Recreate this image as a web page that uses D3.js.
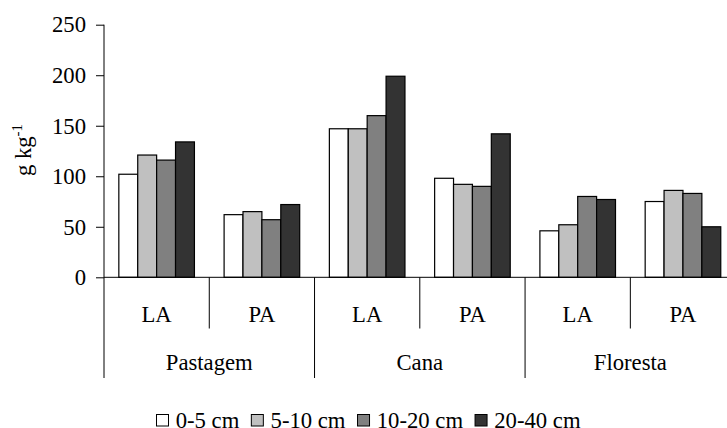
<!DOCTYPE html>
<html>
<head>
<meta charset="utf-8">
<script src="https://cdn.jsdelivr.net/npm/d3@7"></script>
<style>
  html, body { margin: 0; padding: 0; background: #fff; }
  svg { display: block; }
</style>
</head>
<body>
<svg id="chart" width="727" height="428"></svg>
<script>
// ---- data ----
const groups = ["Pastagem", "Cana", "Floresta"];
const subgroups = ["LA", "PA"];
const seriesNames = ["0-5 cm", "5-10 cm", "10-20 cm", "20-40 cm"];
const seriesColors = ["#ffffff", "#c0c0c0", "#808080", "#333333"];
// values per series, in order: Pastagem LA, Pastagem PA, Cana LA, Cana PA, Floresta LA, Floresta PA
const s0_5 = [102, 62, 147, 98, 46, 75];
const s5_10 = [121, 65, 147, 92, 52, 86];
const s10_20 = [116, 57, 160, 90, 80, 83];
const s20_40 = [134, 72, 199, 142, 77, 50];
const yTicks = [0, 50, 100, 150, 200, 250];

const seriesValues = [s0_5, s5_10, s10_20, s20_40];
const cats = [];
groups.forEach(g => subgroups.forEach(s => cats.push(g + "|" + s)));

const svg = d3.select("#chart");
const FS = 22.7;
const FF = '"Liberation Serif"';

const left = 104, right = 735.6, y0 = 277.3, yTop = 24.7;
const x0 = d3.scaleBand().domain(cats).range([left, right]).padding(0);
const x1 = d3.scaleBand().domain(seriesNames).range([0, x0.bandwidth()]).paddingInner(0).paddingOuter(0.785);
const y = d3.scaleLinear().domain([0, 250]).range([y0, yTop]);

// bars
const barData = [];
cats.forEach((c, i) => seriesNames.forEach((s, j) => barData.push({ c, s, j, v: seriesValues[j][i] })));
svg.append("g").selectAll("rect").data(barData).join("rect")
  .attr("x", d => x0(d.c) + x1(d.s))
  .attr("y", d => y(d.v))
  .attr("width", x1.bandwidth())
  .attr("height", d => y(0) - y(d.v))
  .attr("fill", d => seriesColors[d.j])
  .attr("stroke", "#000")
  .attr("stroke-width", 1.2);

// y axis
const yAxis = svg.append("g").attr("transform", `translate(${left},0)`)
  .call(d3.axisLeft(y).tickValues(yTicks).tickSize(8).tickPadding(10).tickFormat(d3.format("d")));
yAxis.attr("font-family", null).attr("font-size", null);
yAxis.select(".domain").remove();
yAxis.selectAll(".tick line").attr("stroke", "#000");
yAxis.selectAll(".tick text").attr("font-size", FS).style("font-family", FF).attr("fill", "#000");

// y axis line (extends down through category area)
svg.append("line").attr("x1", left).attr("x2", left).attr("y1", y(250)).attr("y2", 378)
  .attr("stroke", "#000").attr("stroke-width", 1);
// x axis line
svg.append("line").attr("x1", left).attr("x2", right).attr("y1", y(0)).attr("y2", y(0))
  .attr("stroke", "#000").attr("stroke-width", 1);

// category dividers
const step = x0.step();
for (let i = 1; i <= cats.length; i++) {
  const xx = left + i * step;
  svg.append("line").attr("x1", xx).attr("x2", xx).attr("y1", y(0)).attr("y2", i % 2 === 0 ? 378 : 328.5)
    .attr("stroke", "#000").attr("stroke-width", 1);
}

// subgroup labels
cats.forEach(c => {
  svg.append("text")
    .attr("x", x0(c) + x0.bandwidth() / 2)
    .attr("y", 321.5)
    .attr("text-anchor", "middle")
    .attr("font-size", FS)
    .style("font-family", FF)
    .text(c.split("|")[1]);
});

// group labels
groups.forEach((g, i) => {
  svg.append("text")
    .attr("x", left + (2 * i + 1) * step)
    .attr("y", 370)
    .attr("text-anchor", "middle")
    .attr("font-size", FS)
    .style("font-family", FF)
    .text(g);
});

// y title
const yt = svg.append("text")
  .attr("transform", "translate(31,150) rotate(-90)")
  .attr("text-anchor", "middle")
  .attr("font-size", FS)
  .style("font-family", FF);
yt.append("tspan").text("g kg");
yt.append("tspan").attr("dy", -9).attr("font-size", 15).text("-1");

// legend
let cx = 156;
seriesNames.forEach((s, j) => {
  svg.append("rect").attr("x", cx + 0.5).attr("y", 414.5).attr("width", 12).attr("height", 11.5)
    .attr("fill", seriesColors[j]).attr("stroke", "#000").attr("stroke-width", 1);
  const t = svg.append("text").attr("x", cx + 19.7).attr("y", 427.5)
    .attr("font-size", FS).style("font-family", FF).text(s);
  const w = t.node().getComputedTextLength();
  cx += 19.7 + w + 11.5;
});
</script>
</body>
</html>
